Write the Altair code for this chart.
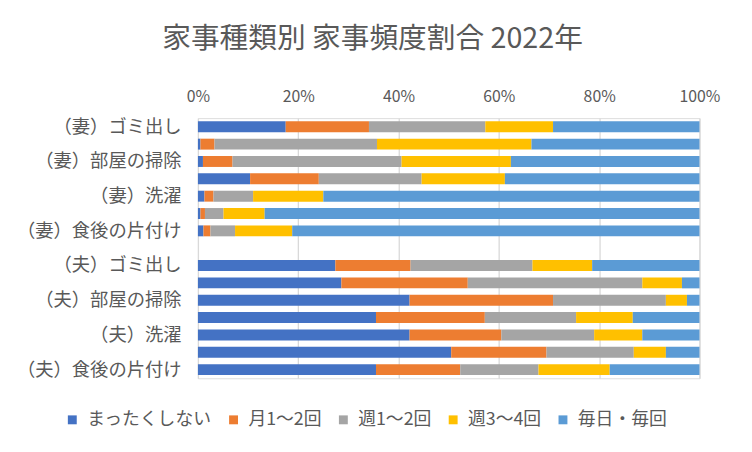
import json
import altair as alt
import pandas as pd

title_text = "家事種類別 家事頻度割合 2022年"
categories = [
    "（妻）ゴミ出し", "", "（妻）部屋の掃除", "", "（妻）洗濯", "", "（妻）食後の片付け",
    "",
    "（夫）ゴミ出し", "", "（夫）部屋の掃除", "", "（夫）洗濯", "", "（夫）食後の片付け",
]
rows = [0, 1, 2, 3, 4, 5, 6, 8, 9, 10, 11, 12, 13, 14]
series = ["まったくしない", "月1〜2回", "週1〜2回", "週3〜4回", "毎日・毎回"]
colors = ["#4472C4", "#ED7D31", "#A5A5A5", "#FFC000", "#5B9BD5"]

never = [17.5, 0.5, 1.0, 10.4, 1.3, 0.5, 1.1, 27.4, 28.6, 42.2, 35.5, 42.2, 50.5, 35.5]
monthly = [16.6, 2.8, 5.9, 13.7, 1.8, 0.9, 1.4, 15.0, 25.2, 28.6, 21.7, 18.3, 19.0, 16.8]
weekly12 = [23.2, 32.4, 33.7, 20.5, 7.9, 3.7, 4.9, 24.3, 34.8, 22.5, 18.2, 18.5, 17.4, 15.6]
weekly34 = [13.5, 30.8, 21.8, 16.6, 14.0, 8.2, 11.4, 11.9, 7.9, 4.2, 11.3, 9.6, 6.4, 14.2]
daily = [29.2, 33.5, 37.6, 38.8, 75.0, 86.7, 81.2, 21.4, 3.5, 2.5, 13.3, 11.4, 6.7, 17.9]

values_by_series = [never, monthly, weekly12, weekly34, daily]
records = []
for k, (name, vals) in enumerate(zip(series, values_by_series)):
    for r, v in zip(rows, vals):
        records.append({"row": r, "series": name, "k": k, "value": v})
df = pd.DataFrame(records)

FONT = "Noto Sans CJK JP"
GRAY = "#595959"

label_expr = json.dumps(categories, ensure_ascii=False) + "[datum.value]"

chart = alt.Chart(df).mark_bar().encode(
    x=alt.X(
        "value:Q",
        stack="normalize",
        scale=alt.Scale(domain=[0, 1], nice=False),
        axis=alt.Axis(
            orient="top", format="%", values=[0, 0.2, 0.4, 0.6, 0.8, 1.0],
            title=None, domain=False, ticks=False, grid=True, labelFlush=False,
            gridColor="#d9d9d9", gridWidth=1.3,
            labelFontSize=16, labelColor=GRAY, labelPadding=14, labelFont=FONT,
        ),
    ),
    y=alt.Y(
        "row:O",
        scale=alt.Scale(domain=list(range(15)), paddingInner=0.37, paddingOuter=0.185),
        axis=alt.Axis(
            labelExpr=label_expr, title=None, domain=False, ticks=False, grid=False,
            labelFontSize=18.5, labelColor=GRAY, labelPadding=17, labelFont=FONT,
            labelLimit=0,
        ),
    ),
    color=alt.Color(
        "series:N",
        scale=alt.Scale(domain=series, range=colors),
        sort=series,
        legend=alt.Legend(
            title=None, orient="none", legendX=-136, legendY=296,
            direction="horizontal", columns=5, gridAlign="none", columnPadding=13,
            symbolType="square", symbolSize=81, symbolStrokeWidth=0,
            labelFontSize=18, labelColor=GRAY, labelFont=FONT, labelOffset=6,
        ),
    ),
    order=alt.Order("k:Q", sort="ascending"),
).properties(
    width=507,
    height=263,
    title=alt.Title(
        title_text, fontSize=29, font=FONT, color=GRAY, fontWeight="normal",
        anchor="middle", dx=-77, offset=35,
    ),
    autosize=alt.AutoSizeParams(type="none"),
    padding={"left": 192, "top": 109, "right": 45, "bottom": 54},
).configure_view(stroke=None).configure(font=FONT)

chart.save("out.html", embed_options={"renderer": "svg", "actions": False})
